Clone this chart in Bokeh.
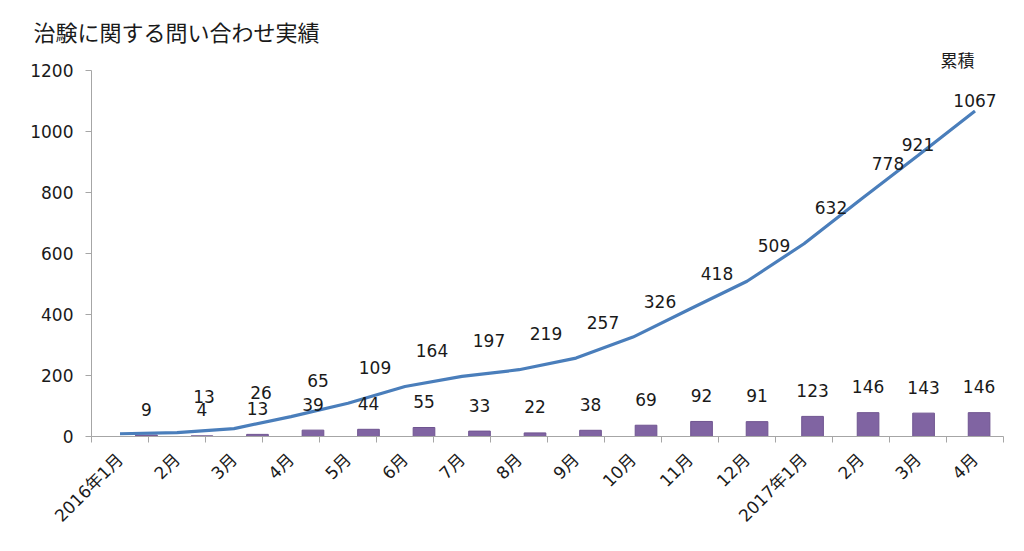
import math
from bokeh.plotting import figure
from bokeh.models import Range1d, FixedTicker, LabelSet, ColumnDataSource, Title
from bokeh.core.properties import value
from bokeh.embed import file_html
from bokeh.resources import INLINE

# ---- data ----
months = ["2016年1月", "2月", "3月", "4月", "5月", "6月", "7月", "8月", "9月",
          "10月", "11月", "12月", "2017年1月", "2月", "3月", "4月"]
monthly = [9, 4, 13, 39, 44, 55, 33, 22, 38, 69, 92, 91, 123, 146, 143, 146]
cumulative = [9, 13, 26, 65, 109, 164, 197, 219, 257, 326, 418, 509, 632, 778, 921, 1067]
y_ticks = [0, 200, 400, 600, 800, 1000, 1200]
title_text = "治験に関する問い合わせ実績"
legend_text = "累積"

FONT = "DejaVu Sans, Noto Sans CJK JP, sans-serif"
JP_FONT = "Noto Sans CJK JP, sans-serif"
AXIS_GRAY = "#a6a6a6"
TXT = "#1a1a1a"

idx = list(range(len(months)))

p = figure(width=1016, height=543, output_backend="svg", toolbar_location=None,
           x_range=Range1d(-0.5, len(months) - 0.5), y_range=Range1d(0, 1200),
           min_border_left=91, min_border_right=13, min_border_top=70,
           min_border_bottom=107, title=None)
p.extra_x_ranges = {"bars": Range1d(-0.99, 15.44)}
p.extra_y_ranges = {"bars": Range1d(0, 2240)}

p.xgrid.visible = False
p.ygrid.visible = False
p.outline_line_color = None
p.background_fill_color = "white"
p.border_fill_color = "white"

# legend-like text (nearest the frame), then the chart title above it
p.add_layout(Title(text=legend_text, align="right", offset=29, standoff=-3,
                   text_font=JP_FONT, text_font_size="17px", text_font_style="normal",
                   text_color=TXT), "above")
p.add_layout(Title(text=title_text, align="left", offset=-58, standoff=0,
                   text_font=JP_FONT, text_font_size="22px", text_font_style="normal",
                   text_color=TXT), "above")

# y axis
ya = p.yaxis[0]
ya.ticker = FixedTicker(ticks=y_ticks)
ya.axis_line_color = AXIS_GRAY
ya.major_tick_line_color = AXIS_GRAY
ya.major_tick_out = 6
ya.major_tick_in = 0
ya.minor_tick_line_color = None
ya.major_label_text_font = FONT
ya.major_label_text_font_size = "17px"
ya.major_label_text_color = TXT
ya.major_label_standoff = 12

# x axis
xa = p.xaxis[0]
xa.ticker = FixedTicker(ticks=idx, minor_ticks=[i - 0.5 for i in range(len(months) + 1)])
xa.major_label_overrides = {i: m for i, m in zip(idx, months)}
xa.axis_line_color = AXIS_GRAY
xa.major_tick_line_color = None
xa.major_tick_out = 0
xa.major_tick_in = 0
xa.minor_tick_line_color = AXIS_GRAY
xa.minor_tick_out = 6
xa.minor_tick_in = 0
xa.major_label_orientation = math.pi / 4
xa.major_label_text_font = FONT
xa.major_label_text_font_size = "17px"
xa.major_label_text_color = TXT
xa.major_label_standoff = 14

# bars (secondary scale)
bsrc = ColumnDataSource(dict(x=idx, top=monthly, label=[str(v) for v in monthly]))
p.vbar(x="x", top="top", width=0.39, source=bsrc, x_range_name="bars",
       y_range_name="bars", fill_color="#8064A2", line_color="#6f5490", line_width=1)

# cumulative line
p.line(idx, cumulative, line_width=3.2, line_color="#4A7EBB")

# bar labels
p.add_layout(LabelSet(x="x", y="top", text="label", source=bsrc, x_range_name="bars",
                      y_range_name="bars", y_offset=26, text_align="center",
                      text_baseline="middle", text_font=value(FONT),
                      text_font_size="17px", text_color=TXT))

# cumulative labels
n_main = len(months) - 2
csrc_main = ColumnDataSource(dict(x=idx[1:n_main], y=cumulative[1:n_main],
                                  label=[str(v) for v in cumulative[1:n_main]]))
csrc_end = ColumnDataSource(dict(x=idx[n_main:], y=cumulative[n_main:],
                                 label=[str(v) for v in cumulative[n_main:]]))
p.add_layout(LabelSet(x="x", y="y", text="label", source=csrc_main, x_offset=27,
                      y_offset=36, text_align="center", text_baseline="middle",
                      text_font=value(FONT), text_font_size="17px", text_color=TXT))
p.add_layout(LabelSet(x="x", y="y", text="label", source=csrc_end, x_offset=0,
                      y_offset=11, text_align="center", text_baseline="middle",
                      text_font=value(FONT), text_font_size="17px", text_color=TXT))

open("out.html", "w").write(file_html(p, INLINE))
